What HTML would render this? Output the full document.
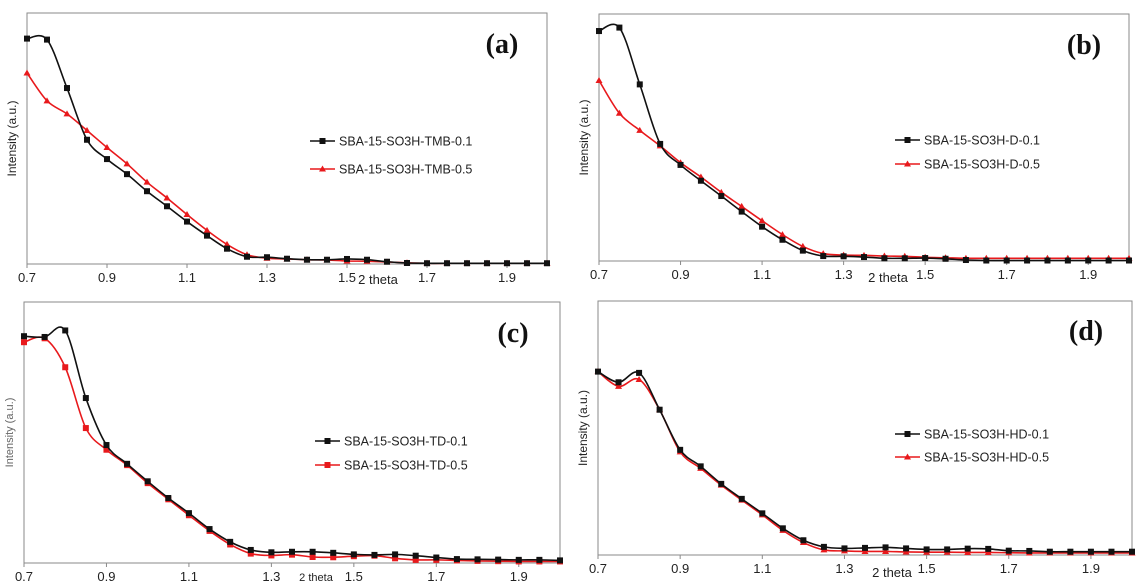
<!DOCTYPE html>
<html><head><meta charset="utf-8">
<style>
html,body{margin:0;padding:0;background:#fff;}
svg{display:block;font-family:"Liberation Sans",Arial,sans-serif;}
</style></head>
<body>
<svg id="fig" width="1136" height="583" viewBox="0 0 1136 583" xmlns="http://www.w3.org/2000/svg"></svg>
<script>
const xValues = [0.7,0.75,0.8,0.85,0.9,0.95,1.0,1.05,1.1,1.15,1.2,1.25,1.3,1.35,1.4,1.45,1.5,1.55,1.6,1.65,1.7,1.75,1.8,1.85,1.9,1.95,2.0];
const xTickLabels = ["0.7","0.9","1.1","1.3","1.5","1.7","1.9"];
const xTickValues = [0.7,0.9,1.1,1.3,1.5,1.7,1.9];
const panelLabels = ["(a)","(b)","(c)","(d)"];
const seriesNamesA = ["SBA-15-SO3H-TMB-0.1","SBA-15-SO3H-TMB-0.5"];
const seriesNamesB = ["SBA-15-SO3H-D-0.1","SBA-15-SO3H-D-0.5"];
const seriesNamesC = ["SBA-15-SO3H-TD-0.1","SBA-15-SO3H-TD-0.5"];
const seriesNamesD = ["SBA-15-SO3H-HD-0.1","SBA-15-SO3H-HD-0.5"];
const a01 = [89.8,89.4,70.1,49.5,41.8,35.8,29.0,23.0,16.9,11.3,6.1,2.9,2.7,2.1,1.7,1.7,2.0,1.7,0.9,0.4,0.3,0.3,0.3,0.3,0.3,0.3,0.3];
const a05 = [76.1,65.0,59.8,53.2,46.4,39.9,32.6,26.3,19.7,13.4,7.8,3.7,2.3,2.0,1.7,1.6,1.2,1.1,0.8,0.5,0.3,0.3,0.3,0.3,0.3,0.3,0.3];
const b01 = [93.1,94.5,71.5,47.4,38.9,32.5,26.3,20.0,13.9,8.6,4.2,2.0,1.9,1.6,1.1,1.1,1.2,0.9,0.4,0.2,0.2,0.2,0.2,0.2,0.2,0.2,0.2];
const b05 = [73.1,59.8,52.9,46.6,39.8,34.0,27.8,22.1,16.3,10.7,5.9,3.0,2.4,2.3,2.0,1.9,1.5,1.3,1.1,1.1,1.1,1.1,1.1,1.1,1.1,1.1,1.1];
const c01 = [86.9,86.6,89.1,63.2,45.2,38.0,31.3,24.9,19.1,13.0,8.1,5.0,4.1,4.3,4.3,3.9,3.3,3.1,3.3,2.8,2.1,1.5,1.4,1.3,1.2,1.2,1.0];
const c05 = [84.6,86.1,75.0,51.7,43.4,37.5,30.6,24.4,18.3,12.3,7.1,3.6,2.9,3.2,2.3,2.2,2.6,2.8,1.8,1.2,1.2,1.0,0.8,0.7,0.6,0.6,0.6];
const d01 = [72.2,68.0,71.7,57.2,41.4,34.9,28.0,22.1,16.4,10.5,5.8,3.2,2.6,2.8,3.0,2.6,2.2,2.2,2.5,2.4,1.7,1.6,1.3,1.3,1.3,1.3,1.3];
const d05 = [72.2,66.4,69.1,57.2,40.6,34.1,27.5,21.6,15.8,9.7,4.9,2.0,1.6,1.4,1.4,1.2,1.1,1.1,1.0,1.0,0.9,0.8,0.8,0.8,0.8,0.8,0.8];

const NS="http://www.w3.org/2000/svg";
const svg=document.getElementById('fig');
function mk(tag,attrs,parent){const e=document.createElementNS(NS,tag);for(const k in attrs)e.setAttribute(k,attrs[k]);(parent||svg).appendChild(e);return e;}

const panels=[
 {id:'a',label:panelLabels[0],names:seriesNamesA,s1:a01,s2:a05,x0:27,x1:547,top:13,bot:264,redMarker:'tri',lx:310,ly:[141,169],labX:502,labY:53,yt:14,ttlX:378,ttlY:284},
 {id:'b',label:panelLabels[1],names:seriesNamesB,s1:b01,s2:b05,x0:599,x1:1129,top:14,bot:261,redMarker:'tri',lx:895,ly:[140,164],labX:1084,labY:54,yt:14,ttlX:888,ttlY:282},
 {id:'c',label:panelLabels[2],names:seriesNamesC,s1:c01,s2:c05,x0:24,x1:560,top:302,bot:563,redMarker:'sq',lx:315,ly:[441,465],labX:513,labY:342,yt:12,ttlX:316,ttlY:581},
 {id:'d',label:panelLabels[3],names:seriesNamesD,s1:d01,s2:d05,x0:598,x1:1132,top:301,bot:555,redMarker:'tri',lx:895,ly:[434,457],labX:1086,labY:340,yt:14,ttlX:892,ttlY:577}
];

function smoothPath(pts){
 let d=`M${pts[0][0]},${pts[0][1]}`;
 for(let i=0;i<pts.length-1;i++){
  const p0=pts[i-1]||pts[i],p1=pts[i],p2=pts[i+1],p3=pts[i+2]||p2;
  const c1=[p1[0]+(p2[0]-p0[0])/6,p1[1]+(p2[1]-p0[1])/6];
  const c2=[p2[0]-(p3[0]-p1[0])/6,p2[1]-(p3[1]-p1[1])/6];
  d+=` C${c1[0]},${c1[1]} ${c2[0]},${c2[1]} ${p2[0]},${p2[1]}`;
 }
 return d;
}
function marker(g,type,x,y,color){
 if(type==='sq'){
  const m=mk('rect',{x:x-3,y:y-3,width:6,height:6,fill:color},g);
  
  
 } else {
  const m=mk('polygon',{points:`${x},${y-3.5} ${x-3.5},${y+2.5} ${x+3.5},${y+2.5}`,fill:color},g);
  
  
 }
}

panels.forEach(p=>{
 const g=mk('g',{});
 
 
 const sx=v=>p.x0+(v-0.7)/(2.0-0.7)*(p.x1-p.x0);
 const sy=v=>p.bot-v/100*(p.bot-p.top);
 const frame=mk('rect',{x:p.x0,y:p.top,width:p.x1-p.x0,height:p.bot-p.top,fill:'none',stroke:'#8a8a8a','stroke-width':1},g);
 
 
 xTickValues.forEach((v,i)=>{
  const t=mk('line',{x1:sx(v),x2:sx(v),y1:p.bot,y2:p.bot+4,stroke:'#8a8a8a'},g);
  
  
  const lab=mk('text',{x:sx(v),y:p.bot+18,'text-anchor':'middle','font-size':13,fill:'#222'},g);
  lab.textContent=xTickLabels[i];
  
  
 });
 const xt=mk('text',{x:p.ttlX,y:p.ttlY,'text-anchor':'middle','font-size':p.id==='c'?11:13,fill:'#222'},g);
 xt.textContent='2 theta';
 
 
 const ycy=(p.top+p.bot)/2;
 const yt=mk('text',{x:0,y:0,'text-anchor':'middle','font-size':p.id==='c'?11:12,fill:p.id==='c'?'#666':'#222',transform:`translate(${p.x0-11},${ycy}) rotate(-90)`},g);
 yt.textContent='Intensity (a.u.)';
 
 
 const pl=mk('text',{x:p.labX,y:p.labY,'text-anchor':'middle','font-size':28,'font-weight':'bold','font-family':'"Liberation Serif",serif',fill:'#111'},g);
 pl.textContent=p.label;
 
 
 [[p.s2,'#e8191c',p.redMarker,1],[p.s1,'#111','sq',0]].forEach(([data,col,mtype,idx])=>{
  const sg=mk('g',{},g);
  
  
  const pts=data.map((v,i)=>[sx(xValues[i]),sy(v)]);
  mk('path',{d:smoothPath(pts),fill:'none',stroke:col,'stroke-width':1.6},sg);
  pts.forEach(q=>marker(sg,mtype,q[0],q[1],col));
  // legend
  const lg=mk('g',{},g);
  
  
  const ly=p.ly[idx];
  mk('line',{x1:p.lx,x2:p.lx+25,y1:ly,y2:ly,stroke:col,'stroke-width':1.6},lg);
  marker(lg,mtype,p.lx+12.5,ly,col);
  const lt=mk('text',{x:p.lx+29,y:ly+4.5,'font-size':12.5,fill:'#222'},lg);
  lt.textContent=p.names[idx];
 });
});
</script>
</body></html>
